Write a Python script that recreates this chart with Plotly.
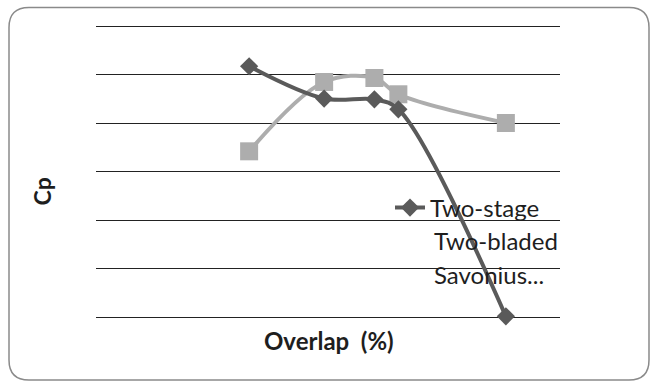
import plotly.graph_objects as go

# ---- data ----
overlap = [19.8, 29.5, 36.0, 39.1, 53.0]
cp_two_stage = [0.2585, 0.2252, 0.2244, 0.2141, 0.0007]
cp_other = [0.1708, 0.2423, 0.2464, 0.2296, 0.2000]
series_names = ["Two-stage", "Conventional"]
legend_extra_lines = ["Two-bladed", "Savonius..."]

W, H = 651, 383
ML, MR, MT, MB = 96, 91, 24, 64
PW, PH = W - ML - MR, H - MT - MB
Y0_PIX = 317            # pixel row of the y=0 grid line
Y_SCALE = 291 / 0.3     # pixels per Cp unit

def px(x):
    return (x - ML) / PW

def py(y):
    return (H - MB - y) / PH

FONT = "Lato"
DARK = "#5a5a5a"
LIGHT = "#adadad"

fig = go.Figure()
fig.add_trace(go.Scatter(
    x=overlap, y=cp_other, name=series_names[1], mode="lines+markers",
    line=dict(color=LIGHT, width=4, shape="spline", smoothing=1.0),
    marker=dict(symbol="square", size=18, color=LIGHT),
    showlegend=False, cliponaxis=False))
fig.add_trace(go.Scatter(
    x=overlap, y=cp_two_stage, name=series_names[0], mode="lines+markers",
    line=dict(color=DARK, width=4, shape="spline", smoothing=1.0),
    marker=dict(symbol="diamond", size=14, color=DARK),
    showlegend=True, cliponaxis=False))

# rounded border around the chart
L, R, T, B, r = 9, 649, 7.5, 380, 20
pts = [("M", L + r, T), ("L", R - r, T), ("Q", R, T, R, T + r), ("L", R, B - r),
       ("Q", R, B, R - r, B), ("L", L + r, B), ("Q", L, B, L, B - r), ("L", L, T + r),
       ("Q", L, T, L + r, T)]
path = ""
for p in pts:
    if p[0] == "Q":
        path += f"Q{px(p[1]):.5f},{py(p[2]):.5f} {px(p[3]):.5f},{py(p[4]):.5f} "
    else:
        path += f"{p[0]}{px(p[1]):.5f},{py(p[2]):.5f} "
path += "Z"

ylo = -(H - MB - Y0_PIX) / Y_SCALE
yhi = (Y0_PIX - MT) / Y_SCALE

fig.update_layout(
    width=W, height=H,
    margin=dict(l=ML, r=MR, t=MT, b=MB),
    paper_bgcolor="white", plot_bgcolor="white",
    font=dict(family=FONT, size=24, color="#1e1e1e"),
    xaxis=dict(range=[0, 60], showgrid=False, zeroline=False, showline=False,
               showticklabels=False, ticks=""),
    yaxis=dict(range=[ylo, yhi], tick0=0, dtick=0.05, showgrid=True, gridcolor="#222222",
               gridwidth=1, zeroline=False, showline=False, showticklabels=False,
               ticks=""),
    showlegend=True,
    legend=dict(x=px(390), y=py(208), xanchor="left", yanchor="middle",
                bgcolor="rgba(0,0,0,0)", font=dict(family=FONT, size=24, color="#1e1e1e")),
    shapes=[dict(type="path", xref="paper", yref="paper", path=path,
                 line=dict(color="#8a8a8a", width=1.5), layer="below")],
    annotations=[
        dict(text="<b>Cp</b>", xref="paper", yref="paper", x=px(41), y=py(191.5),
             xanchor="center", yanchor="middle",
             textangle=-90, showarrow=False, font=dict(size=23, family=FONT)),
        dict(text="<b>Overlap  (%)</b>", xref="paper", yref="paper", x=px(328.5), y=py(340),
             xanchor="center", yanchor="middle",
             showarrow=False, font=dict(size=24, family=FONT)),
        dict(text=legend_extra_lines[0], xref="paper", yref="paper", x=px(432), y=py(241),
             xanchor="left", yanchor="middle", showarrow=False),
        dict(text=legend_extra_lines[1], xref="paper", yref="paper", x=px(432), y=py(274),
             xanchor="left", yanchor="middle", showarrow=False),
    ],
)

fig.write_html("out.html", post_script="document.body.style.margin='0';",
               config={"displayModeBar": False})
